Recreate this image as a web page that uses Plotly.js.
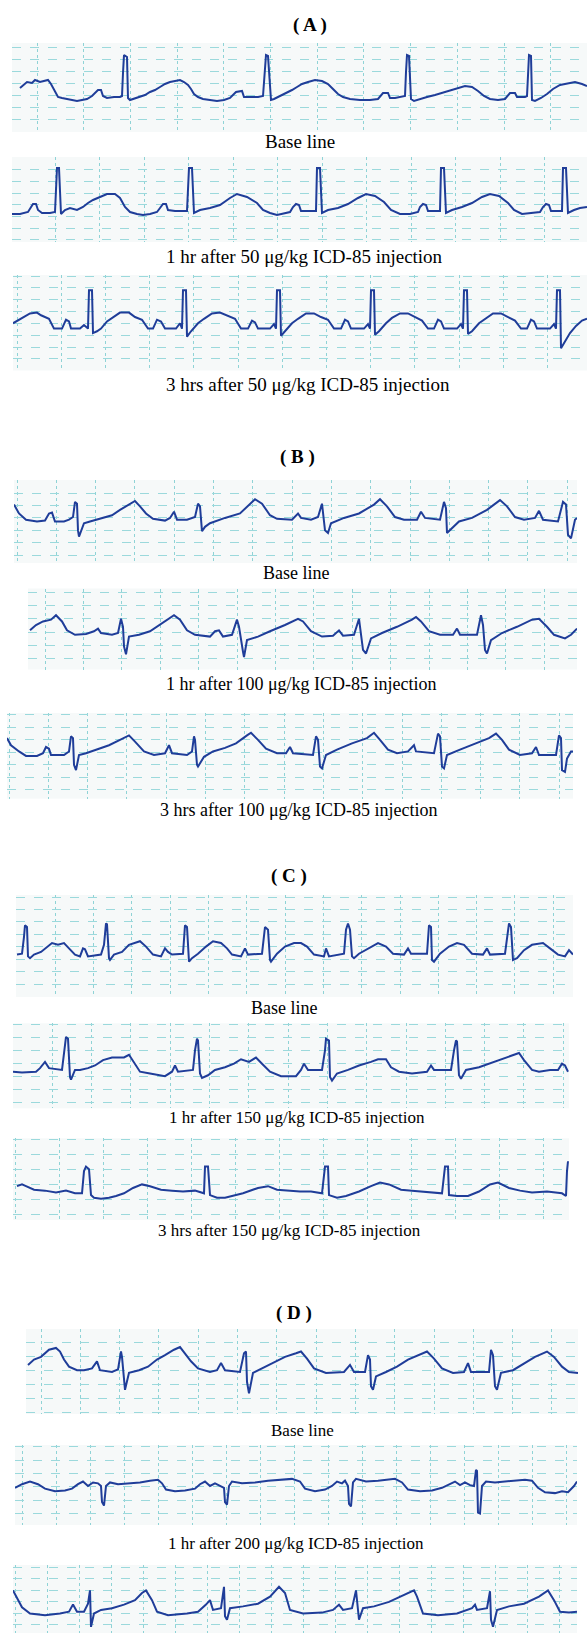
<!DOCTYPE html>
<html><head><meta charset="utf-8">
<script src="https://cdn.plot.ly/plotly-3.0.1.min.js"></script>
<style>html,body{margin:0;padding:0;background:#fff}#chart{width:587px;height:1633px}</style>
</head><body><div id="chart"></div>
<script>
// ECG traces: [time, amplitude] pairs (amplitude relative to isoelectric line)
const ecgA1 = [[20,9],[27,15],[32,14],[35,17],[40,15],[44,16],[48,17],[51,13],[54,7],[58,0],[62,-1],[67,-2],[72,-3],[77,-4],[82,-3],[87,-2],[92,1],[95,4],[98,7],[101,7],[103,1],[107,-1],[114,0],[120,0],[122,1],[123,24],[124,42],[127,40],[128,-1],[130,-3],[133,-2],[137,-1],[141,1],[145,2],[150,5],[155,7],[160,10],[165,13],[170,15],[175,16],[180,17],[184,15],[188,12],[191,8],[194,3],[198,0],[203,-2],[210,-3],[217,-4],[224,-3],[230,-1],[236,5],[242,6],[244,0],[250,0],[258,0],[263,1],[265,29],[266,42],[268,41],[269,27],[271,-3],[274,-2],[278,0],[283,2],[287,4],[292,7],[297,10],[302,13],[308,15],[315,17],[322,16],[328,13],[333,8],[338,3],[343,0],[350,-2],[360,-3],[370,-3],[378,-2],[383,4],[388,4],[390,-1],[395,-1],[402,0],[405,1],[406,25],[407,42],[409,41],[410,25],[411,-2],[414,-4],[420,-2],[427,0],[435,2],[445,5],[455,8],[465,11],[472,10],[478,6],[484,1],[490,-2],[498,-3],[505,-2],[510,4],[515,4],[517,0],[525,0],[527,1],[528,25],[529,42],[531,41],[532,-3],[535,-4],[541,-1],[547,3],[553,8],[560,12],[568,14],[575,15],[582,13],[587,11]];
const ecgA2 = [[12,-2],[20,-2],[28,0],[31,5],[33,8],[36,8],[38,2],[42,-1],[50,-1],[55,0],[57,44],[59,44],[61,-2],[65,2],[70,4],[77,2],[83,5],[88,9],[93,12],[100,15],[107,18],[115,18],[120,14],[125,5],[130,0],[137,-2],[143,-3],[150,-2],[157,0],[160,4],[163,8],[166,8],[168,2],[175,1],[187,1],[189,44],[192,44],[194,-1],[200,2],[210,4],[220,7],[230,14],[237,18],[247,15],[257,9],[263,2],[270,-1],[277,-3],[285,-1],[290,0],[293,5],[296,8],[299,7],[301,1],[310,1],[316,1],[317,44],[320,44],[322,-1],[328,2],[338,4],[348,8],[358,14],[366,18],[375,16],[384,10],[391,2],[400,-2],[410,-2],[418,0],[420,5],[423,8],[426,7],[428,1],[440,1],[441,44],[444,44],[446,-1],[452,2],[462,5],[472,9],[482,15],[490,18],[499,16],[508,9],[514,2],[522,-2],[532,-1],[540,0],[543,5],[546,8],[549,7],[551,1],[562,1],[563,44],[566,44],[568,-1],[574,2],[580,4],[587,5]];
const ecgA3 = [[13,6],[22,12],[30,17],[37,18],[41,15],[49,11],[54,0],[62,0],[66,10],[69,8],[71,0],[80,0],[84,4],[88,0],[89,43],[92,43],[93,-5],[97,-3],[101,0],[107,8],[112,12],[120,18],[129,18],[135,13],[142,10],[148,0],[153,0],[157,10],[161,8],[165,0],[176,0],[180,6],[182,0],[183,43],[186,43],[187,-9],[191,-3],[198,6],[204,11],[212,17],[220,18],[228,14],[235,11],[241,0],[248,0],[252,9],[255,7],[258,0],[270,0],[274,5],[276,0],[277,43],[280,43],[281,-8],[285,-3],[292,6],[298,11],[306,17],[314,17],[321,13],[328,10],[334,0],[341,0],[345,10],[348,8],[351,0],[364,0],[368,5],[370,0],[371,43],[374,43],[375,-7],[379,-3],[386,6],[392,12],[400,17],[408,17],[415,13],[422,9],[428,0],[434,0],[438,10],[441,8],[444,0],[457,0],[461,5],[463,0],[464,43],[467,43],[468,-6],[472,-3],[479,6],[485,11],[493,17],[501,17],[508,13],[515,9],[521,0],[527,0],[531,10],[534,8],[537,0],[550,0],[554,5],[556,0],[557,43],[560,43],[561,-22],[565,-15],[570,-5],[576,3],[582,9],[587,11]];
const ecgB1 = [[14,17],[19,7],[26,0],[37,-2],[45,-1],[49,7],[52,8],[55,-2],[64,-2],[69,0],[73,3],[75,20],[77,18],[78,-12],[79,-19],[82,-10],[84,-4],[90,-2],[97,0],[105,3],[112,5],[120,11],[129,17],[135,21],[140,15],[146,7],[153,1],[165,-1],[170,2],[174,9],[177,0],[187,0],[195,3],[198,18],[200,15],[202,-13],[205,-8],[210,-4],[225,2],[240,7],[255,23],[262,18],[270,5],[277,1],[292,0],[298,7],[301,2],[311,0],[318,3],[322,18],[325,-12],[328,-15],[331,-4],[344,2],[359,7],[374,17],[380,23],[387,15],[395,3],[404,0],[417,0],[421,9],[425,2],[440,0],[444,20],[446,13],[447,-15],[453,-8],[459,-2],[472,2],[487,11],[500,22],[507,15],[515,3],[524,0],[535,2],[539,10],[543,0],[558,-2],[563,20],[566,17],[568,-17],[571,-21],[575,0],[577,2]];
const ecgB2 = [[30,5],[36,11],[43,15],[51,17],[56,22],[62,15],[67,5],[75,0],[86,1],[94,4],[98,7],[101,2],[112,0],[118,2],[121,18],[123,9],[124,-13],[126,-22],[129,-2],[139,0],[150,4],[157,9],[165,15],[174,22],[180,17],[187,5],[195,0],[210,-2],[215,4],[219,5],[223,-2],[232,0],[237,17],[239,9],[243,-19],[244,-25],[247,-6],[258,-2],[270,4],[285,11],[298,18],[303,15],[311,4],[322,-2],[333,-1],[339,5],[343,-1],[354,0],[359,18],[360,9],[363,-17],[366,-21],[371,-4],[382,2],[397,9],[412,17],[416,20],[421,15],[429,4],[440,0],[453,0],[457,7],[460,0],[477,0],[481,22],[483,11],[485,-17],[487,-21],[491,-6],[502,2],[517,9],[532,17],[539,18],[547,9],[554,0],[565,-4],[571,0],[577,7]];
const ecgB3 = [[7,19],[11,11],[19,4],[26,-1],[37,-1],[43,2],[46,9],[49,7],[51,0],[64,0],[69,4],[71,21],[73,19],[74,-11],[76,-17],[79,0],[86,2],[97,6],[109,11],[120,17],[129,22],[135,15],[144,4],[154,0],[165,2],[169,11],[172,2],[187,0],[192,4],[194,21],[195,17],[197,-11],[198,-13],[204,-2],[213,4],[225,8],[236,13],[247,22],[251,25],[258,17],[266,7],[277,2],[286,2],[290,9],[293,2],[313,0],[316,21],[318,17],[320,-13],[322,-15],[326,0],[337,6],[352,13],[367,19],[374,25],[380,17],[388,6],[397,2],[408,4],[414,11],[416,4],[434,2],[438,24],[440,21],[442,-13],[444,-15],[447,0],[460,6],[475,13],[489,19],[496,24],[502,17],[509,6],[520,0],[532,2],[536,9],[539,0],[556,0],[559,22],[561,19],[562,-17],[565,-19],[567,-4],[571,4],[573,4]];
const ecgC1 = [[17,0],[22,1],[24,20],[25,33],[27,31],[28,-2],[30,-4],[34,0],[41,3],[47,9],[52,13],[58,11],[64,13],[69,7],[75,0],[80,-2],[83,7],[85,6],[88,-2],[101,0],[104,11],[106,35],[107,34],[109,-4],[110,-6],[114,0],[122,3],[129,11],[135,13],[140,15],[146,9],[153,0],[161,-2],[165,7],[168,3],[172,0],[183,1],[185,33],[187,31],[189,-8],[192,-4],[198,1],[206,9],[213,15],[221,13],[227,7],[232,0],[241,-2],[245,7],[248,0],[262,1],[265,31],[268,28],[270,-6],[271,-8],[277,1],[285,9],[294,13],[301,13],[307,9],[314,0],[324,-2],[326,7],[329,-2],[344,1],[346,28],[348,35],[350,28],[352,-2],[354,-4],[359,1],[369,7],[378,13],[386,9],[393,1],[404,0],[408,7],[411,1],[427,1],[429,33],[431,31],[432,-6],[434,-8],[440,1],[449,9],[457,13],[464,11],[472,1],[483,0],[487,7],[490,0],[505,1],[509,35],[511,31],[513,-6],[517,-4],[524,5],[532,11],[543,13],[550,7],[558,0],[565,-2],[569,5],[573,0]];
const ecgC2 = [[13,0],[22,-1],[36,0],[40,4],[45,11],[49,4],[62,2],[64,24],[66,39],[68,37],[70,-6],[71,-9],[75,2],[80,2],[88,4],[95,7],[103,13],[112,16],[124,16],[129,19],[135,9],[140,0],[150,-2],[165,-5],[172,0],[175,7],[178,0],[193,2],[195,24],[197,37],[198,35],[200,-2],[202,-7],[208,-4],[215,2],[225,5],[234,9],[241,14],[249,11],[256,16],[262,9],[270,0],[281,-5],[296,-5],[301,2],[304,9],[308,2],[322,2],[325,24],[326,37],[329,35],[330,-6],[332,-10],[337,-2],[348,2],[359,7],[371,11],[378,14],[386,14],[391,5],[399,0],[412,-2],[427,0],[431,7],[434,2],[451,2],[454,24],[456,35],[457,34],[459,-4],[461,-8],[466,2],[479,5],[494,11],[509,17],[519,21],[524,13],[532,2],[539,0],[550,2],[558,2],[562,9],[565,7],[568,0]];
const ecgC3 = [[17,8],[22,10],[26,8],[34,4],[45,3],[56,1],[66,3],[75,0],[82,0],[84,25],[86,30],[89,27],[91,-2],[94,-5],[101,-6],[109,-5],[116,-3],[124,0],[133,6],[142,10],[150,8],[161,4],[172,3],[183,2],[195,3],[204,0],[205,30],[208,30],[210,-2],[217,-5],[225,-5],[232,-3],[243,0],[258,6],[268,8],[277,4],[288,3],[300,2],[311,2],[322,0],[325,30],[328,30],[329,-2],[337,-5],[346,-3],[359,2],[371,8],[380,12],[389,10],[401,4],[412,3],[423,2],[442,0],[445,30],[448,30],[449,-2],[457,-3],[468,-3],[479,2],[490,10],[498,12],[509,6],[520,3],[532,1],[547,2],[562,0],[566,-3],[567,25],[568,36]];
const ecgD1 = [[28,8],[34,14],[41,17],[49,25],[56,27],[60,23],[64,14],[69,6],[77,2],[84,2],[92,4],[97,12],[100,2],[112,0],[118,3],[121,23],[122,17],[124,-11],[125,-20],[129,-1],[139,2],[148,6],[157,14],[165,19],[174,25],[180,28],[185,21],[191,12],[198,4],[210,0],[217,2],[221,10],[225,2],[240,0],[244,21],[246,23],[247,-11],[249,-24],[253,-1],[262,4],[273,10],[285,17],[296,21],[301,23],[307,15],[314,4],[326,-1],[337,0],[344,0],[350,8],[354,0],[365,0],[368,19],[370,14],[371,-16],[373,-20],[376,-5],[386,0],[397,6],[408,14],[419,19],[427,23],[434,15],[442,4],[453,-1],[464,0],[468,10],[471,0],[489,0],[491,25],[493,19],[495,-16],[497,-20],[501,-1],[513,2],[524,10],[535,17],[547,23],[554,17],[562,6],[569,0],[578,-1]];
const ecgD2 = [[15,-2],[22,2],[30,5],[38,2],[45,-3],[55,-6],[65,-5],[72,-3],[78,2],[83,5],[88,0],[93,4],[98,3],[101,0],[102,-18],[104,-22],[106,0],[110,4],[118,2],[128,3],[140,4],[150,6],[158,7],[162,3],[166,-4],[175,-6],[185,-5],[195,-3],[200,2],[205,5],[210,0],[215,3],[220,0],[224,-2],[225,-18],[227,-21],[229,0],[232,5],[242,3],[255,4],[268,6],[280,7],[292,8],[300,5],[305,-3],[315,-6],[325,-4],[332,0],[337,5],[342,3],[345,6],[348,0],[349,-20],[351,-23],[353,4],[356,8],[366,5],[378,6],[388,7],[395,8],[402,4],[408,-4],[420,-6],[432,-5],[442,-2],[450,2],[455,5],[460,1],[465,4],[470,1],[474,0],[476,18],[477,17],[478,-30],[480,-31],[482,0],[486,5],[495,4],[505,5],[515,6],[525,7],[532,6],[538,-2],[545,-7],[555,-8],[562,-6],[568,-7],[574,0],[577,5]];
const ecgD3 = [[13,26],[17,17],[22,7],[30,0],[45,-2],[60,0],[69,2],[73,10],[77,2],[84,2],[88,11],[90,26],[91,-15],[94,0],[101,4],[112,6],[124,10],[135,15],[142,23],[146,26],[152,15],[157,2],[168,-2],[187,0],[198,2],[206,10],[210,15],[213,4],[221,6],[224,30],[225,-3],[227,-7],[230,6],[243,8],[258,11],[270,19],[279,30],[285,23],[290,4],[303,0],[322,1],[333,4],[339,10],[343,4],[352,6],[356,26],[358,4],[359,-7],[363,6],[374,8],[389,13],[404,21],[414,26],[417,19],[423,0],[438,-2],[457,0],[472,6],[475,10],[477,4],[487,6],[490,25],[491,-7],[493,-15],[497,4],[509,8],[524,11],[539,19],[548,26],[554,15],[560,2],[569,1],[577,2]];

const panelTitles = ["( A )", "( B )", "( C )", "( D )"];
const stripLabels = [
  "Base line", "1 hr after 50 μg/kg ICD-85 injection", "3 hrs after 50 μg/kg ICD-85 injection",
  "Base line", "1 hr after 100 μg/kg ICD-85 injection", "3 hrs after 100 μg/kg ICD-85 injection",
  "Base line", "1 hr after 150 μg/kg ICD-85 injection", "3 hrs after 150 μg/kg ICD-85 injection",
  "Base line", "1 hr after 200 μg/kg ICD-85 injection"
];

// ---- layout geometry (page pixels); k = pixels per amplitude unit ----
const W = 587, H = 1633;
const strips = [
  {d: ecgA1, l: 12, r: 587, t: 43,     b: 132,    base: 97,     k: 1,    gx0: 37,   gdx: 46.7, gy0: 50,   gdy: 12},
  {d: ecgA2, l: 12, r: 587, t: 157,    b: 242,    base: 212,    k: 1,    gx0: 10.5, gdx: 44.5, gy0: 54,   gdy: 11.7},
  {d: ecgA3, l: 13, r: 587, t: 275,    b: 370.5,  base: 328.6,  k: 0.89, gx0: 17,   gdx: 44.2, gy0: 59,   gdy: 13.3},
  {d: ecgB1, l: 14, r: 577, t: 480,    b: 563,    base: 519.7,  k: 0.89, gx0: 17,   gdx: 39.3, gy0: 44,   gdy: 14},
  {d: ecgB2, l: 28, r: 577, t: 588.5,  b: 669.5,  base: 634.8,  k: 0.89, gx0: 45,   gdx: 38.4, gy0: 48,   gdy: 15},
  {d: ecgB3, l: 7,  r: 573, t: 713,    b: 798.6,  base: 755,    k: 0.89, gx0: 9,    gdx: 39.3, gy0: 45,   gdy: 14},
  {d: ecgC1, l: 16, r: 573, t: 895,    b: 997,    base: 954.6,  k: 0.89, gx0: 17,   gdx: 38.3, gy0: 64.7, gdy: 14},
  {d: ecgC2, l: 13, r: 569, t: 1023.3, b: 1108.3, base: 1071.7, k: 0.89, gx0: 13,   gdx: 39.3, gy0: 52.5, gdy: 14.6},
  {d: ecgC3, l: 13, r: 569, t: 1138.3, b: 1220,   base: 1193.3, k: 0.89, gx0: 15,   gdx: 44,   gy0: 59.9, gdy: 16.8},
  {d: ecgD1, l: 26, r: 578, t: 1329,   b: 1414,   base: 1372,   k: 0.89, gx0: 41,   gdx: 39.3, gy0: 32.6, gdy: 15.7},
  {d: ecgD2, l: 15, r: 577, t: 1445,   b: 1525,   base: 1486,   k: 0.89, gx0: 22,   gdx: 34,   gy0: 44.1, gdy: 15},
  {d: ecgD3, l: 13, r: 577, t: 1565,   b: 1633,   base: 1613.5, k: 0.89, gx0: 15,   gdx: 32,   gy0: 52.2, gdy: 13}
];
const titlePos = [[310, 25], [298, 457], [289, 876], [294, 1313]];
const labelPos = [[300,141,19],[304,257,19],[308,384,19],[296,573,18],[301,684,18],[299,810,18],
                  [284,1008,18],[297,1117,17],[289,1230,17],[302,1430,17],[296,1543,17]];

const traces = [];
const layout = {
  width: W, height: H, margin: {l: 0, r: 0, t: 0, b: 0},
  paper_bgcolor: '#ffffff', plot_bgcolor: '#f6f9f9', showlegend: false,
  annotations: []
};
strips.forEach((s, i) => {
  const n = i === 0 ? '' : String(i + 1);
  traces.push({
    type: 'scatter', mode: 'lines',
    x: s.d.map(p => p[0]), y: s.d.map(p => p[1]),
    xaxis: 'x' + n, yaxis: 'y' + n,
    line: {color: '#1f3d99', width: 2}, hoverinfo: 'skip'
  });
  layout['xaxis' + n] = {
    domain: [s.l / W, s.r / W], range: [s.l, s.r], anchor: 'y' + n,
    showgrid: true, gridcolor: '#8fd3d6', griddash: 'dot', gridwidth: 1,
    tick0: s.gx0, dtick: s.gdx, showticklabels: false, ticks: '',
    zeroline: false, showline: false, fixedrange: true
  };
  layout['yaxis' + n] = {
    domain: [Math.max(0, 1 - s.b / H), 1 - s.t / H],
    range: [(s.base - s.b) / s.k, (s.base - s.t) / s.k], anchor: 'x' + n,
    showgrid: true, gridcolor: '#9bd9dc', griddash: 'dash', gridwidth: 1,
    tick0: s.gy0, dtick: s.gdy, showticklabels: false, ticks: '',
    zeroline: false, showline: false, fixedrange: true
  };
});
panelTitles.forEach((txt, i) => {
  layout.annotations.push({
    text: '<b>' + txt + '</b>', xref: 'paper', yref: 'paper',
    x: titlePos[i][0] / W, y: 1 - titlePos[i][1] / H, xanchor: 'center', yanchor: 'middle',
    showarrow: false, font: {family: 'Liberation Serif, Times New Roman, serif', size: 19, color: '#000'}
  });
});
stripLabels.forEach((txt, i) => {
  layout.annotations.push({
    text: txt, xref: 'paper', yref: 'paper',
    x: labelPos[i][0] / W, y: 1 - labelPos[i][1] / H, xanchor: 'center', yanchor: 'middle',
    showarrow: false, font: {family: 'Liberation Serif, Times New Roman, serif', size: labelPos[i][2], color: '#000'}
  });
});
Plotly.newPlot('chart', traces, layout, {staticPlot: true, displayModeBar: false});
</script>
</body></html>
